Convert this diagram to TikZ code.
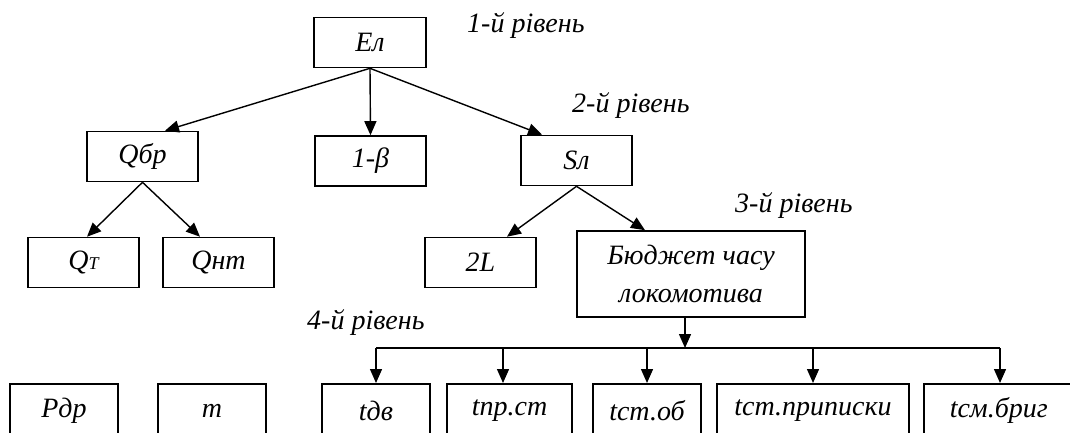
\documentclass[tikz,border=0pt]{standalone}
\usepackage{fontspec}
\setmainfont{Liberation Serif}
\usetikzlibrary{arrows.meta}
\begin{document}
\begin{tikzpicture}[x=1pt,y=-1pt,
  box/.style={draw, line width=1.6pt, minimum height=#1, inner sep=0pt,
    font=\fontsize{28}{32}\selectfont\itshape, align=center},
  box/.default=50pt,
  conn/.style={line width=1.4pt, -{Triangle[length=14pt,width=12pt]}},
  bus/.style={line width=1.4pt},
  level/.style={anchor=west, inner sep=0pt, font=\fontsize{28}{30}\selectfont\itshape}]
\useasboundingbox (0,0) rectangle (1070,432);
\clip (0,0) rectangle (1070,432);

% level 1
\node[box, minimum width=112pt] (el) at (370,42.5) {Ел};
\node[level] (l1) at (467,26) {1-й рівень};

% level 2
\node[box, minimum width=111pt] (qbr) at (142.5,156.5) {Qбр};
\node[box, minimum width=111pt] (beta) at (370.5,161) {1-β};
\node[box, minimum width=111pt] (sl) at (576.5,160.5) {Sл};
\node[level] (l2) at (572,106) {2-й рівень};

% level 3
\node[box, minimum width=111pt] (qt) at (83.5,262.5) {Q\fontsize{18}{20}\selectfont Т};
\node[box, minimum width=111pt] (qnt) at (218.5,262.5) {Qнт};
\node[box, minimum width=111pt] (twol) at (480.5,262.5) {2L};
\node[box=86pt, minimum width=228pt, font=\fontsize{28}{38}\selectfont\itshape] (bud) at (691,274) {Бюджет часу\\локомотива};
\node[level] (l3) at (735,206) {3-й рівень};

% level 4
\node[level] (l4) at (307,323) {4-й рівень};
\node[box=54pt, minimum width=108pt, anchor=north] (pdr) at (64,383) {Pдр};
\node[box=54pt, minimum width=108pt, anchor=north] (m) at (212,383) {m};
\node[box=54pt, minimum width=108pt, anchor=north] (tdv) at (376,383) {tдв};
\node[box=54pt, minimum width=125pt, anchor=north] (tpr) at (509.5,383) {tпр.ст};
\node[box=54pt, minimum width=108pt, anchor=north] (tso) at (647,383) {tст.об};
\node[box=54pt, minimum width=192pt, anchor=north] (tsp) at (813,383) {tст.приписки};
\node[box=54pt, minimum width=150pt, anchor=north west] (tsb) at (923,383) {tсм.бриг};

% connectors
\draw[conn] (el.south) -- (qbr.north -| 165,0);
\draw[conn] (el.south) -- (beta.north);
\draw[conn] (el.south) -- (sl.north -| 542,0);
\draw[conn] (qbr.south) -- (qt.north -| 87,0);
\draw[conn] (qbr.south) -- (qnt.north -| 200,0);
\draw[conn] (sl.south) -- (twol.north -| 507,0);
\draw[conn] (sl.south) -- (bud.north -| 645,0);

% distribution bus below the locomotive time budget
\coordinate (hub) at (685,348);
\coordinate (busl) at (376,348);
\coordinate (busr) at (1000,348);
\draw[conn] (bud.south -| hub) -- (hub);
\draw[bus] (busl) -- (busr);
\draw[conn] (busl) -- (tdv.north -| busl);
\draw[conn] (503,348) -- (tpr.north -| 503,0);
\draw[conn] (647,348) -- (tso.north -| 647,0);
\draw[conn] (813,348) -- (tsp.north -| 813,0);
\draw[conn] (busr) -- (tsb.north -| busr);
\end{tikzpicture}
\end{document}
